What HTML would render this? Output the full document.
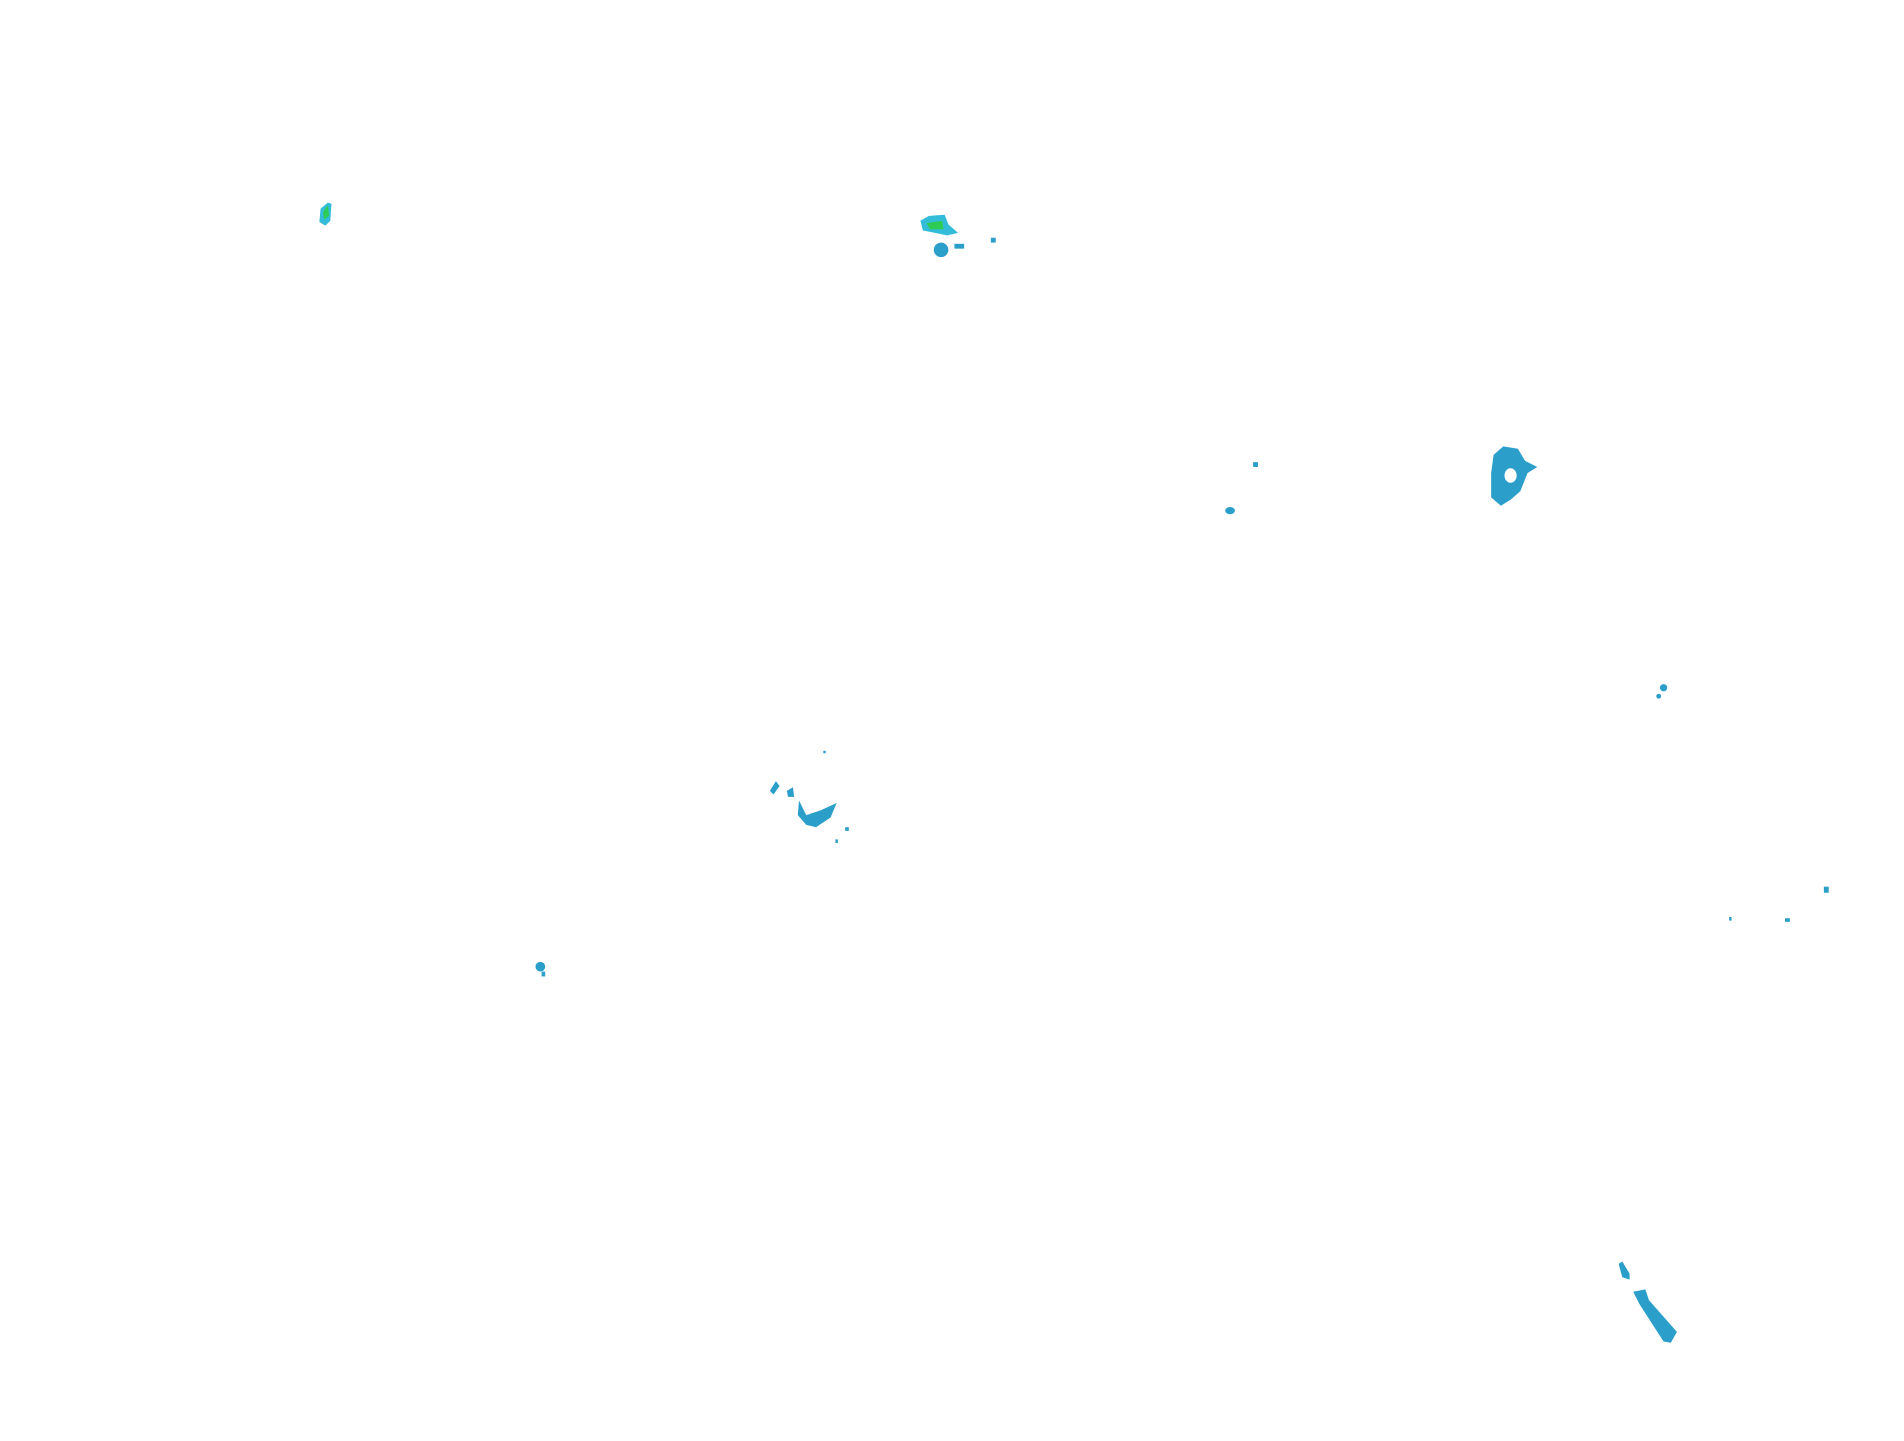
<!DOCTYPE html>
<html><head><meta charset="utf-8"><style>html,body{margin:0;padding:0;background:#fff;width:1904px;height:1441px;overflow:hidden}</style></head>
<body>
<svg width="1904" height="1441" viewBox="0 0 1568 1188" preserveAspectRatio="none" xmlns="http://www.w3.org/2000/svg">
<g fill="#2b9fca">
<path d="M264,172 L270,167 L273,168 L272,182 L268,186 L263,183 Z" fill="#33bcd8"/>
<path d="M266,175 L270,169 L271,178 L267,181 Z" fill="#2ecc55"/>
<path d="M758,182 L765,178 L778,177 L781,185 L789,192 L780,194 L770,192 L760,190 Z" fill="#33bcd8"/>
<path d="M763,184 L776,182 L777,189 L766,189 Z" fill="#2ecc55"/>
<ellipse cx="775" cy="206" rx="6" ry="6"/>
<rect x="786" y="201" width="8" height="4"/>
<rect x="816" y="196" width="4" height="4"/>
<rect x="1032" y="381" width="4" height="4"/>
<ellipse cx="1013" cy="421" rx="4" ry="3"/>
<path d="M1230,375 L1238,368 L1250,370 L1256,380 L1266,385 L1258,390 L1252,405 L1244,412 L1236,417 L1228,410 L1228,390 Z"/>
<ellipse cx="1244" cy="392" rx="5" ry="6" fill="#fff"/>
<ellipse cx="1370" cy="567" rx="3" ry="3"/>
<ellipse cx="1366" cy="574" rx="2" ry="2"/>
<path d="M634,652 L639,644 L642,648 L637,655 Z"/>
<path d="M648,652 L653,649 L654,657 L649,657 Z"/>
<path d="M658,660 L664,672 L676,668 L689,662 L684,674 L672,682 L664,680 L657,672 Z"/>
<rect x="678" y="619" width="2" height="2"/>
<rect x="696" y="682" width="3" height="3"/>
<rect x="688" y="692" width="2" height="3"/>
<ellipse cx="445" cy="797" rx="4" ry="4"/>
<rect x="446" y="801" width="3" height="4"/>
<rect x="1502" y="731" width="4" height="5"/>
<rect x="1470" y="757" width="4" height="3"/>
<rect x="1424" y="756" width="2" height="3"/>
<path d="M1333,1042 L1336,1040 L1342,1050 L1342,1055 L1336,1053 Z"/>
<path d="M1345,1065 L1355,1063 L1358,1072 L1381,1098 L1376,1107 L1370,1106 L1350,1075 Z"/>
</g>
</svg>
</body></html>
